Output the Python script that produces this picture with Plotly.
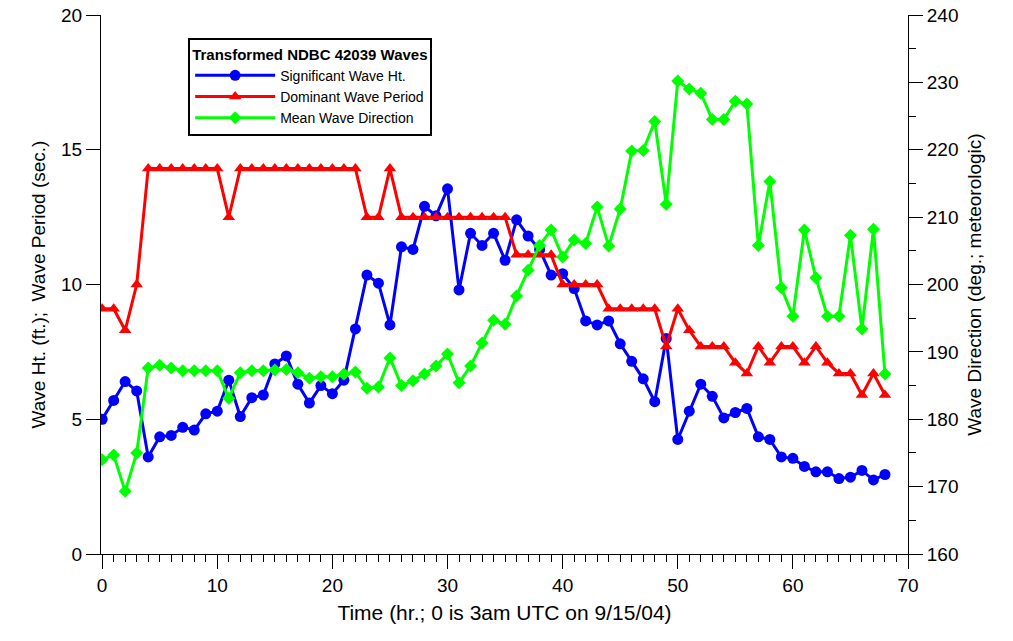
import plotly.graph_objects as go

hours = list(range(69))

wave_ht = [5.0, 5.7, 6.4, 6.05, 3.6, 4.35, 4.4, 4.7, 4.6, 5.2, 5.3, 6.45, 5.1, 5.8, 5.9, 7.05, 7.35, 6.3, 5.6, 6.25,
           5.95, 6.45, 8.35, 10.35, 10.05, 8.5, 11.4, 11.3, 12.9, 12.55, 13.55, 9.8, 11.9, 11.45, 11.9, 10.9, 12.4, 11.8, 11.3, 10.35,
           10.4, 9.85, 8.65, 8.5, 8.65, 7.8, 7.15, 6.5, 5.65, 8.0, 4.25, 5.3, 6.3, 5.85, 5.05, 5.25, 5.4, 4.35, 4.25, 3.6,
           3.55, 3.25, 3.05, 3.05, 2.8, 2.85, 3.1, 2.75, 2.95]

wave_period = [9.1, 9.1, 8.3, 10.0, 14.3, 14.3, 14.3, 14.3, 14.3, 14.3, 14.3, 12.5, 14.3, 14.3, 14.3, 14.3, 14.3, 14.3, 14.3, 14.3,
               14.3, 14.3, 14.3, 12.5, 12.5, 14.3, 12.5, 12.5, 12.5, 12.5, 12.5, 12.5, 12.5, 12.5, 12.5, 12.5, 11.1, 11.1, 11.1, 11.1,
               10.0, 10.0, 10.0, 10.0, 9.1, 9.1, 9.1, 9.1, 9.1, 7.7, 9.1, 8.3, 7.7, 7.7, 7.7, 7.1, 6.7, 7.7, 7.1, 7.7,
               7.7, 7.1, 7.7, 7.1, 6.7, 6.7, 5.9, 6.7, 5.9]

wave_dir = [174.0, 174.7, 169.3, 175.0, 187.6, 188.0, 187.6, 187.2, 187.2, 187.2, 187.2, 183.1, 186.9, 187.2, 187.2, 187.3, 187.4, 186.9, 186.1, 186.3,
            186.3, 186.7, 187.0, 184.6, 184.8, 189.1, 185.0, 185.7, 186.7, 187.9, 189.7, 185.4, 187.9, 191.3, 194.7, 194.1, 198.3, 202.1, 205.8, 208.1,
            204.1, 206.6, 206.1, 211.5, 205.7, 211.2, 219.8, 219.9, 224.2, 211.9, 230.2, 229.0, 228.4, 224.5, 224.5, 227.2, 226.8, 205.8, 215.3, 199.5,
            195.3, 208.1, 201.0, 195.3, 195.3, 207.3, 193.4, 208.2, 186.7]

font = "Liberation Sans, Arial, sans-serif"

fig = go.Figure()
fig.add_trace(go.Scatter(x=hours, y=wave_ht, name="Significant Wave Ht.", mode="lines+markers",
                         line=dict(color="#0000ff", width=3), marker=dict(symbol="circle", size=11)))
fig.add_trace(go.Scatter(x=hours, y=wave_period, name="Dominant Wave Period", mode="lines+markers",
                         line=dict(color="#ff0000", width=3), marker=dict(symbol="triangle-up", size=11)))
fig.add_trace(go.Scatter(x=hours, y=wave_dir, name="Mean Wave Direction", mode="lines+markers", yaxis="y2",
                         line=dict(color="#00ff00", width=3), marker=dict(symbol="diamond", size=10)))

axis_common = dict(showgrid=False, zeroline=False, showline=True, linecolor="black", linewidth=1, automargin=False,
                   ticks="outside", tickcolor="black", tickfont=dict(size=19, color="black"))

fig.update_layout(
    width=1013, height=641,
    margin=dict(l=101, r=105, t=15, b=87),
    plot_bgcolor="white", paper_bgcolor="white",
    font=dict(family=font, color="black"),
    xaxis=dict(axis_common, range=[-0.1, 70], tickvals=[0, 10, 20, 30, 40, 50, 60, 70], ticklen=14,
               minor=dict(dtick=1, ticks="outside", ticklen=7, tickcolor="black"),
               title=dict(text="Time (hr.; 0 is 3am UTC on 9/15/04)", font=dict(size=21), standoff=10)),
    yaxis=dict(axis_common, range=[0, 20], dtick=5, ticklen=14,
               title=dict(text="Wave Ht. (ft.);  Wave Period (sec.)", font=dict(size=19), standoff=10)),
    yaxis2=dict(axis_common, range=[160, 240], dtick=10, overlaying="y", side="right", ticklen=14,
                minor=dict(dtick=5, ticks="outside", ticklen=7, tickcolor="black"),
                title=dict(text="Wave Direction (deg.; meteorologic)", font=dict(size=19), standoff=10)),
    legend=dict(x=0.108, y=0.957, xanchor="left", yanchor="top", bordercolor="black", borderwidth=2,
                bgcolor="white", font=dict(size=14), tracegroupgap=0, itemwidth=80,
                title=dict(text="<b>Transformed NDBC 42039 Waves</b>", font=dict(size=15), side="top")),
    showlegend=True,
)

fig.write_html("out.html", config={"displayModeBar": False},
               post_script="document.body.style.margin='0';")
